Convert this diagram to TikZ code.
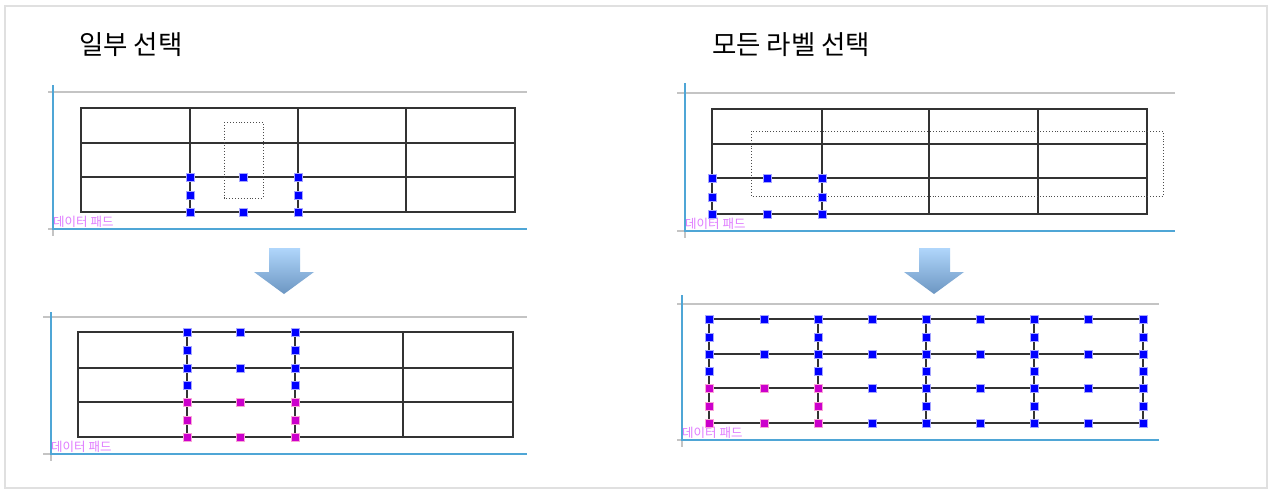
\documentclass[tikz,border=0pt]{standalone}
\usepackage{fontspec}
\setmainfont{Noto Sans CJK KR}
\usetikzlibrary{arrows.meta}

\definecolor{framegray}{HTML}{E0E0E0}
\definecolor{rulegray}{HTML}{C4C4C4}
\definecolor{marginblue}{HTML}{4FA6D6}
\definecolor{padviolet}{HTML}{E07CFF}
\definecolor{hndblue}{HTML}{0000FF}
\definecolor{hndmag}{HTML}{CC00CC}
\definecolor{arrowtop}{HTML}{B0D6FB}
\definecolor{arrowbot}{HTML}{6C96C2}

\tikzset{
  tbl/.style={draw=black!80, line width=1.2pt},
  ruler/.style={draw=rulegray, line width=1.6pt},
  margin/.style={draw=marginblue, line width=1.6pt},
  sel/.style={draw=black!70, dotted, line width=0.9pt},
  hb/.style={fill=hndblue, draw=blue!35, line width=0.5pt},
  hm/.style={fill=hndmag, draw=magenta!35, line width=0.5pt},
  heading/.style={anchor=west, inner sep=0pt, font=\fontsize{26.5}{30}\selectfont},
  padlabel/.style={anchor=west, inner sep=0pt, text=padviolet, font=\fontsize{12.5}{14}\selectfont},
  down/.style={top color=arrowtop, bottom color=arrowbot, draw=none}
}

\begin{document}
\begin{tikzpicture}[x=1pt, y=-1pt]
  \useasboundingbox (0,0) rectangle (1274,490);
  \fill[white] (0,0) rectangle (1274,490);
  \draw[framegray, line width=2.6pt] (5,6) rectangle (1267,488);

  % headings
  \node[heading] (selpart) at (79,45) {일부 선택};
  \node[heading] (selall) at (712,45) {모든 라벨 선택};

  % ---- top left: part of the table selected
  \draw[ruler] (48,92) -- (527,92);
  \draw[ruler] (48,229) -- (53,229) (53,229) -- (53,236);
  \draw[margin] (53,85) -- (53,229) -- (527,229);
  \node[padlabel] (padA) at (53,222) {데이터 패드};
  \draw[tbl] (81,108) rectangle (515,212);
  \foreach \y in {143,177} \draw[tbl] (81,\y) -- (515,\y);
  \foreach \x in {190,298,406} \draw[tbl] (\x,108) -- (\x,212);
  \draw[sel] (224,122) rectangle (263,198);
  \foreach \x/\y in {190/177,243/177,298/177,190/195,298/195,190/212,243/212,298/212}
    \filldraw[hb] (\x,\y) ++(-4,-4) rectangle ++(8,8);

  % ---- top right: all labels selected
  \draw[ruler] (677,93) -- (1175,93);
  \draw[ruler] (677,231) -- (685,231) (685,231) -- (685,238);
  \draw[margin] (685,83) -- (685,231) -- (1175,231);
  \node[padlabel] (padB) at (685,224) {데이터 패드};
  \draw[tbl] (712,109) rectangle (1147,214);
  \foreach \y in {144,178} \draw[tbl] (712,\y) -- (1147,\y);
  \foreach \x in {822,929,1038} \draw[tbl] (\x,109) -- (\x,214);
  \draw[sel] (751,131) rectangle (1163,196);
  \foreach \x/\y in {712/178,767/178,822/178,712/197,822/197,712/214,767/214,822/214}
    \filldraw[hb] (\x,\y) ++(-4,-4) rectangle ++(8,8);

  % arrows
  \shade[down] (269,248) -- (300,248) -- (300,272) -- (314,272) -- (284,294)
    -- (254,272) -- (269,272) -- cycle;
  \shade[down] (919,248) -- (950,248) -- (950,272) -- (964,272) -- (934,294)
    -- (904,272) -- (919,272) -- cycle;

  % ---- bottom left
  \draw[ruler] (43,317) -- (527,317);
  \draw[ruler] (43,454) -- (51,454) (51,454) -- (51,461);
  \draw[margin] (51,312) -- (51,454) -- (527,454);
  \node[padlabel] (padC) at (51,447) {데이터 패드};
  \draw[tbl] (78,332) rectangle (513,437);
  \foreach \y in {368,402} \draw[tbl] (78,\y) -- (513,\y);
  \foreach \x in {187,295,403} \draw[tbl] (\x,332) -- (\x,437);
  \foreach \x/\y in {187/332,240/332,295/332,187/350,295/350,187/368,240/368,295/368,187/385,295/385}
    \filldraw[hb] (\x,\y) ++(-4,-4) rectangle ++(8,8);
  \foreach \x/\y in {187/402,240/402,295/402,187/420,295/420,187/437,240/437,295/437}
    \filldraw[hm] (\x,\y) ++(-4,-4) rectangle ++(8,8);

  % ---- bottom right
  \draw[ruler] (677,304) -- (1159,304);
  \draw[ruler] (677,440) -- (682,440) (682,440) -- (682,447);
  \draw[margin] (682,295) -- (682,440) -- (1159,440);
  \node[padlabel] (padD) at (682,433) {데이터 패드};
  \draw[tbl] (709,319) rectangle (1143,423);
  \foreach \y in {354,388} \draw[tbl] (709,\y) -- (1143,\y);
  \foreach \x in {818,926,1034} \draw[tbl] (\x,319) -- (\x,423);
  \foreach \y in {319,354,388,423}
    \foreach \x in {709,764,818,872,926,980,1034,1088,1143}
      \filldraw[hb] (\x,\y) ++(-4,-4) rectangle ++(8,8);
  \foreach \y in {337,371,406}
    \foreach \x in {709,818,926,1034,1143}
      \filldraw[hb] (\x,\y) ++(-4,-4) rectangle ++(8,8);
  \foreach \x/\y in {709/388,764/388,818/388,709/406,818/406,709/423,764/423,818/423}
    \filldraw[hm] (\x,\y) ++(-4,-4) rectangle ++(8,8);
\end{tikzpicture}
\end{document}
